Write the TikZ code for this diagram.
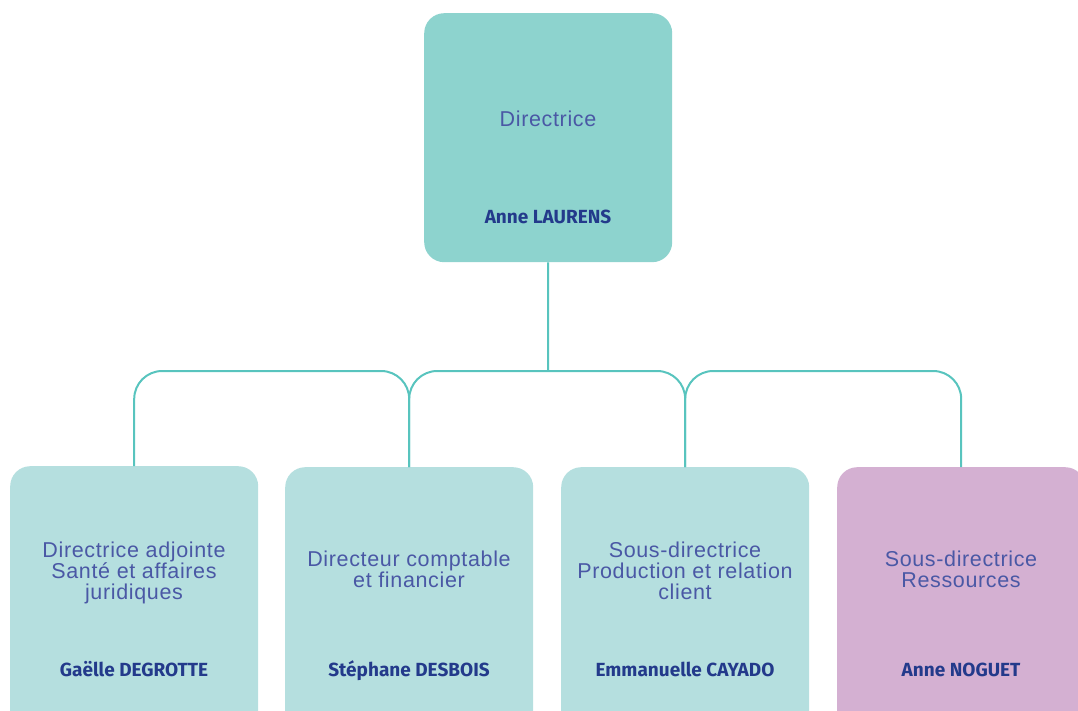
\documentclass[tikz,border=0pt]{standalone}
\usepackage{fontspec}
\newfontfamily\titlefont[LetterSpace=3]{Liberation Sans}
\newfontfamily\namefont{Fira Sans}
\definecolor{topfill}{HTML}{8DD3CE}
\definecolor{tealfill}{HTML}{B5DFDF}
\definecolor{purplefill}{HTML}{D4B0D2}
\definecolor{titlecol}{HTML}{4A58A5}
\definecolor{namecol}{HTML}{233A8B}
\definecolor{linecol}{HTML}{58C4BE}
\begin{document}
\begin{tikzpicture}[x=1pt,y=-1pt,
  box/.style={rounded corners=20pt, draw=none, anchor=north west, minimum width=248pt, inner sep=0pt},
  titletext/.style={font=\titlefont\fontsize{21.5}{21}\selectfont, text=titlecol, align=center, inner sep=0pt},
  nametext/.style={font=\namefont\bfseries\fontsize{19}{22}\selectfont, text=namecol, anchor=base, inner sep=0pt},
  conn/.style={draw=linecol, line width=2pt, rounded corners=28pt}]
\path[use as bounding box] (0,0) rectangle (1078,711);
\clip (0,0) rectangle (1078,711);
% boxes
\node[box, fill=topfill, minimum height=249pt] (top) at (424,13) {};
\node[box, fill=tealfill, minimum height=270pt] (b1) at (10,466) {};
\node[box, fill=tealfill, minimum height=270pt] (b2) at (285,467) {};
\node[box, fill=tealfill, minimum height=270pt] (b3) at (561,467) {};
\node[box, fill=purplefill, minimum height=270pt] (b4) at (837,467) {};
% texts
\node[titletext, anchor=base] (t0) at (548,126.5) {Directrice};
\node[nametext] (n0) at (548,224) {Anne LAURENS};
\node[titletext] (t1) at (134,572.5) {Directrice adjointe\\Santé et affaires\\juridiques};
\node[nametext] (n1) at (134,676) {Gaëlle DEGROTTE};
\node[titletext] (t2) at (409,569.5) {Directeur comptable\\et financier};
\node[nametext] (n2) at (409,676) {Stéphane DESBOIS};
\node[titletext] (t3) at (685,571) {Sous-directrice\\Production et relation\\client};
\node[nametext] (n3) at (685,676) {Emmanuelle CAYADO};
\node[titletext] (t4) at (961,569.5) {Sous-directrice\\Ressources};
\node[nametext] (n4) at (961,676) {Anne NOGUET};
% connectors
\coordinate (bus) at (548,371);
\draw[conn] (top.south) -- (bus);
\draw[conn] (b1.north) -- (b1.north |- bus) -- (b2.north |- bus) -- (b2.north);
\draw[conn] (b2.north) -- (b2.north |- bus) -- (b3.north |- bus) -- (b3.north);
\draw[conn] (b3.north) -- (b3.north |- bus) -- (b4.north |- bus) -- (b4.north);
\end{tikzpicture}
\end{document}
